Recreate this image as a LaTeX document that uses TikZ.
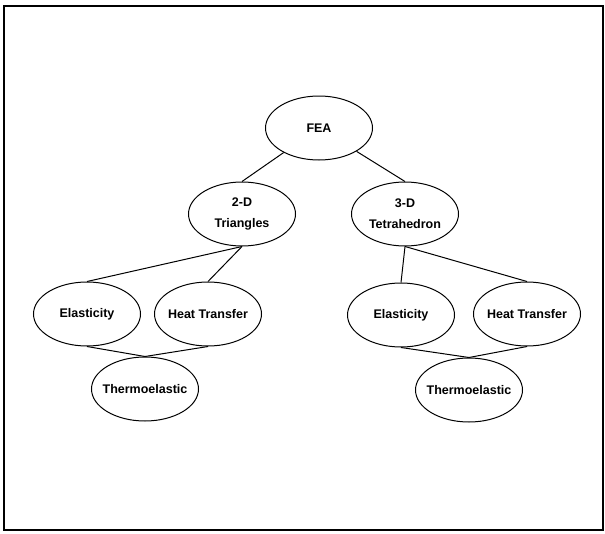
\documentclass[tikz,border=0pt]{standalone}
\usepackage{fontspec}
\setmainfont{Liberation Sans}
\usetikzlibrary{shapes.geometric}
\newcommand{\zlbl}[1]{\makebox[0pt][c]{#1}}
\begin{document}
\begin{tikzpicture}[x=1pt,y=-1pt,
  oval/.style={ellipse,draw=black,line width=1pt,minimum width=107pt,minimum height=64pt,inner sep=0pt,
    align=center,font=\fontsize{12.5}{21}\selectfont\bfseries},
  link/.style={draw=black,line width=1pt}]
\useasboundingbox (0,0) rectangle (605,533);
\draw[line width=1.5pt] (4,6) rectangle (603,530);
\node[oval] (fea) at (319,128) {FEA};
\node[oval] (tri) at (242,214) {\zlbl{2-D}\\\zlbl{Triangles}};
\node[oval] (tet) at (405,214) {\zlbl{3-D}\\\zlbl{Tetrahedron}};
\node[oval] (el1) at (87,314) {\zlbl{Elasticity}};
\node[oval] (ht1) at (208,314) {\zlbl{Heat Transfer}};
\node[oval] (th1) at (145,389) {\zlbl{Thermoelastic}};
\node[oval] (el2) at (401,315) {\zlbl{Elasticity}};
\node[oval] (ht2) at (527,314) {\zlbl{Heat Transfer}};
\node[oval] (th2) at (469,390) {\zlbl{Thermoelastic}};
\draw[link] (fea) -- (tri.north);
\draw[link] (fea) -- (tet.north);
\draw[link] (tri.south) -- (el1.north);
\draw[link] (tri.south) -- (ht1.north);
\draw[link] (tet.south) -- (el2.north);
\draw[link] (tet.south) -- (ht2.north);
\draw[link] (el1.south) -- (th1.north);
\draw[link] (ht1.south) -- (th1.north);
\draw[link] (el2.south) -- (th2.north);
\draw[link] (ht2.south) -- (th2.north);
\end{tikzpicture}
\end{document}
